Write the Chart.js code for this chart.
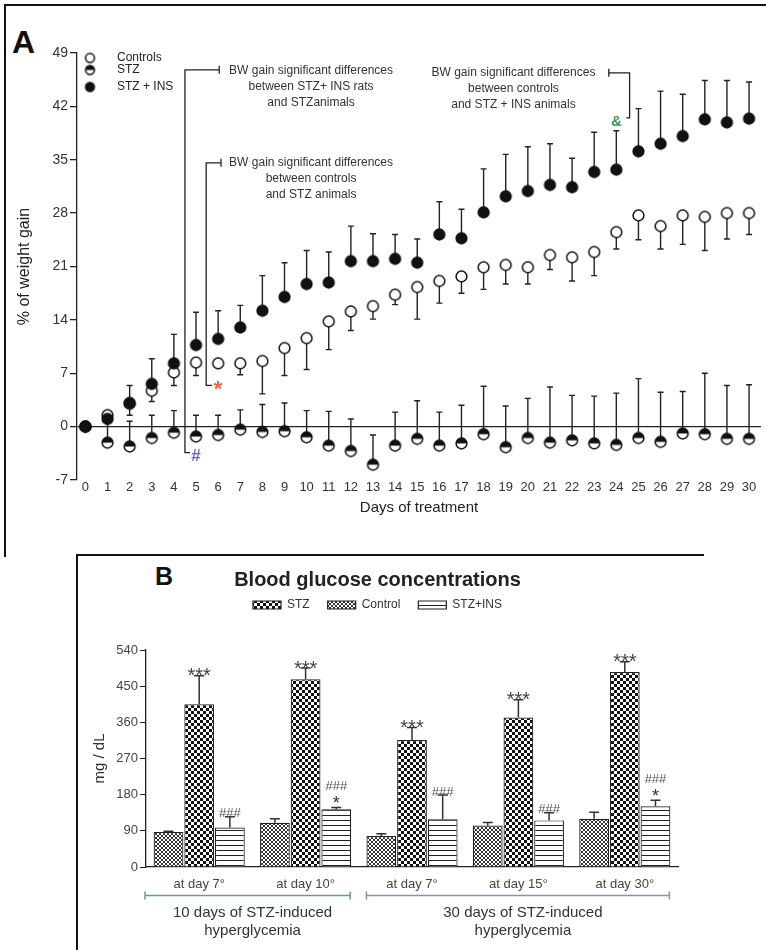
<!DOCTYPE html>
<html>
<head>
<meta charset="utf-8">
<script src="https://cdn.jsdelivr.net/npm/chart.js@4.4.0/dist/chart.umd.min.js"></script>
<style>
  body { margin: 0; background: #fff; width: 766px; height: 950px; position: relative; overflow: hidden;
         font-family: "Liberation Sans", Arial, sans-serif; }
  #chartA { position: absolute; left: 0; top: 0; }
  #chartB { position: absolute; left: 77px; top: 555px; }
  .frame { position: absolute; border-left: 2px solid #111; border-top: 2px solid #111; }
  .letter { position: absolute; font-weight: bold; color: #111; line-height: 1; }
</style>
</head>
<body>
<div class="frame" style="left:4px; top:4px; width:761px; height:551px;"></div>
<div class="frame" style="left:76px; top:554px; width:626px; height:396px;"></div>
<div class="letter" style="left:12px; top:26px; font-size:32px;">A</div>
<div class="letter" style="left:155px; top:564px; font-size:25px;">B</div>
<canvas id="chartA" width="766" height="555"></canvas>
<canvas id="chartB" width="666" height="395"></canvas>
<script>
// ---- panel A: % of weight gain per day
const days = [0,1,2,3,4,5,6,7,8,9,10,11,12,13,14,15,16,17,18,19,20,21,22,23,24,25,26,27,28,29,30];
const controlsMean = [0, 1.5, 3.0, 4.7, 7.1, 8.4, 8.3, 8.3, 8.6, 10.3, 11.6, 13.8, 15.1, 15.8, 17.3, 18.3, 19.1, 19.7, 20.9, 21.2, 20.9, 22.5, 22.2, 22.9, 25.5, 27.7, 26.3, 27.7, 27.5, 28.0, 28.0];
const controlsLow  = [null, 0.9, 1.5, 3.3, 5.4, 6.7, 7.7, 6.8, 4.3, 6.7, 7.5, 10.1, 12.6, 14.1, 16.0, 14.1, 16.2, 17.5, 18.0, 18.7, 18.7, 20.6, 19.1, 19.8, 23.3, 24.5, 23.3, 23.9, 23.1, 24.6, 25.2];
const stzMean = [0, -2.1, -2.6, -1.5, -0.8, -1.3, -1.1, -0.4, -0.7, -0.6, -1.4, -2.5, -3.2, -5.0, -2.5, -1.6, -2.5, -2.2, -1.0, -2.7, -1.5, -2.1, -1.8, -2.2, -2.4, -1.5, -2.0, -0.9, -1.0, -1.6, -1.6];
const stzHigh = [null, 1.0, 0.7, 1.5, 2.1, 1.5, 1.5, 2.2, 2.9, 3.1, 2.1, 2.0, 1.0, -1.1, 1.9, 3.4, 1.9, 2.8, 5.3, 2.7, 3.7, 5.2, 4.1, 4.0, 4.4, 6.3, 4.5, 4.6, 7.0, 5.4, 5.5];
const insMean = [0, 1.0, 3.1, 5.6, 8.3, 10.7, 11.5, 13.0, 15.2, 17.0, 18.7, 18.9, 21.7, 21.7, 22.0, 21.5, 25.2, 24.7, 28.1, 30.2, 30.9, 31.7, 31.4, 33.4, 33.7, 36.1, 37.1, 38.1, 40.3, 39.9, 40.4];
const insHigh = [null, null, 5.4, 8.9, 12.1, 15.0, 15.2, 15.9, 19.8, 21.5, 23.1, 22.9, 26.3, 25.3, 25.2, 24.6, 29.5, 28.5, 33.8, 35.7, 36.7, 37.1, 35.2, 38.6, 38.8, 41.7, 44.0, 43.6, 45.4, 45.4, 45.2];
const weightTicks = [-7, 0, 7, 14, 21, 28, 35, 42, 49];

// ---- panel B: blood glucose (mg/dL)
const glucoseLabels = ['at day 7°', 'at day 10°', 'at day 7°', 'at day 15°', 'at day 30°'];
const controlGlucose = [87, 110, 77, 103, 120];
const controlGlucoseErr = [89, 120, 83, 111, 136];
const stzGlucose = [405, 467, 316, 372, 485];
const stzGlucoseErr = [476, 495, 347, 416, 511];
const insGlucose = [98, 144, 119, 116, 151];
const insGlucoseErr = [125, 148, 179, 135, 166];
const stzMarks = [['***'], ['***'], ['***'], ['***'], ['***']];
const insMarks = [['###'], ['###', '*'], ['###'], ['###'], ['###', '*']];
const phaseRanges = [[0, 1], [2, 4]];
const phaseLabels = [['10 days of STZ-induced', 'hyperglycemia'], ['30 days of STZ-induced', 'hyperglycemia']];
const legendRank = [1, 0, 2]; // legend shows STZ, Control, STZ+INS

Chart.defaults.font.family = '"Liberation Sans", Arial, sans-serif';

function marker(kind, r) {
  const c = document.createElement('canvas');
  c.width = 15; c.height = 15;
  const g = c.getContext('2d');
  g.lineWidth = 1.5;
  g.strokeStyle = '#111';
  g.beginPath(); g.arc(7.5, 7.5, r, 0, Math.PI * 2);
  g.fillStyle = kind === 'filled' ? '#111' : '#fff';
  g.fill();
  if (kind === 'half') {
    g.beginPath(); g.arc(7.5, 7.5, r, Math.PI, Math.PI * 2); g.closePath();
    g.fillStyle = '#111'; g.fill();
  }
  g.beginPath(); g.arc(7.5, 7.5, r, 0, Math.PI * 2); g.stroke();
  return c;
}
const imgOpen = marker('open', 5.4), imgHalf = marker('half', 5.4), imgFilled = marker('filled', 5.4);

const pts = arr => days.map((d, i) => ({ x: d, y: arr[i] }));

const errorBarsA = {
  id: 'errorBarsA',
  beforeDatasetsDraw(chart) {
    const { ctx, scales: { x, y } } = chart;
    ctx.save();
    ctx.strokeStyle = '#222';
    ctx.lineWidth = 1.4;
    chart.data.datasets.forEach(ds => {
      ds.err.forEach((tip, i) => {
        if (tip === null) return;
        const px = x.getPixelForValue(days[i]);
        const y0 = y.getPixelForValue(ds.data[i].y), y1 = y.getPixelForValue(tip);
        ctx.beginPath();
        ctx.moveTo(px, y0); ctx.lineTo(px, y1);
        ctx.moveTo(px - 3, y1); ctx.lineTo(px + 3, y1);
        ctx.stroke();
      });
    });
    ctx.restore();
  }
};

// brackets and notes of panel A, in data units
const bracketPaths = [
  [[6.05, 46.8], [4.5, 46.8], [4.5, -3.4], [4.73, -3.4]],
  [[6.13, 34.6], [5.46, 34.6], [5.46, 5.4], [5.73, 5.4]],
  [[23.66, 46.4], [24.6, 46.4], [24.6, 40.5], [24.45, 40.5]]
];
const noteTexts = [
  { at: [10.2, 46.7], lines: ['BW gain significant differences', 'between STZ+ INS rats', 'and STZanimals'] },
  { at: [10.2, 34.6], lines: ['BW gain significant differences', 'between controls', 'and STZ animals'] },
  { at: [19.35, 46.4], lines: ['BW gain significant differences', 'between controls', 'and STZ + INS animals'] }
];
const signsA = [
  { text: '#', at: [5.0, -3.9], color: '#7b5cc0', size: 17 },
  { text: '*', at: [6.0, 4.85], color: '#f0643c', size: 22 },
  { text: '&', at: [24.0, 40.0], color: '#3a9a55', size: 15 }
];

const notesA = {
  id: 'notesA',
  afterDatasetsDraw(chart) {
    const { ctx, chartArea: a, scales: { x, y } } = chart;
    ctx.save();
    // legend
    const items = [[marker('open', 4.4), 'Controls'], [marker('half', 4.4), 'STZ'], [marker('filled', 4.4), 'STZ + INS']];
    const rows = [5, 17, 34];
    ctx.font = '12px "Liberation Sans", Arial, sans-serif';
    ctx.fillStyle = '#222';
    ctx.textBaseline = 'middle';
    items.forEach(([img, txt], i) => {
      ctx.drawImage(img, a.left + 13 - 7.5, a.top + rows[i] - 7.5);
      ctx.fillText(txt, a.left + 40, a.top + rows[i]);
    });
    // brackets
    ctx.strokeStyle = '#222';
    ctx.lineWidth = 1.3;
    bracketPaths.forEach(path => {
      ctx.beginPath();
      path.forEach(([dx, dy], i) => {
        const px = x.getPixelForValue(dx), py = y.getPixelForValue(dy);
        i ? ctx.lineTo(px, py) : ctx.moveTo(px, py);
      });
      const ex = x.getPixelForValue(path[0][0]), ey = y.getPixelForValue(path[0][1]);
      ctx.moveTo(ex, ey - 4); ctx.lineTo(ex, ey + 4);
      ctx.stroke();
    });
    // texts
    ctx.textAlign = 'center';
    ctx.fillStyle = '#333';
    noteTexts.forEach(n => {
      const px = x.getPixelForValue(n.at[0]), py = y.getPixelForValue(n.at[1]);
      n.lines.forEach((l, i) => ctx.fillText(l, px, py + i * 16));
    });
    signsA.forEach(s => {
      ctx.font = 'bold ' + s.size + 'px "Liberation Sans", Arial, sans-serif';
      ctx.fillStyle = s.color;
      ctx.fillText(s.text, x.getPixelForValue(s.at[0]), y.getPixelForValue(s.at[1]));
    });
    ctx.restore();
  }
};

new Chart(document.getElementById('chartA'), {
  type: 'scatter',
  data: {
    datasets: [
      { label: 'STZ + INS', data: pts(insMean), err: insHigh, pointStyle: imgFilled, order: 0 },
      { label: 'Controls', data: pts(controlsMean), err: controlsLow, pointStyle: imgOpen, order: 1 },
      { label: 'STZ', data: pts(stzMean), err: stzHigh, pointStyle: imgHalf, order: 2 }
    ]
  },
  options: {
    responsive: false,
    animation: false,
    layout: { padding: { top: 53, right: 1, left: 0, bottom: 0 } },
    plugins: { legend: { display: false }, tooltip: { enabled: false } },
    scales: {
      x: {
        type: 'linear', min: -0.38, max: 30.54,
        afterFit: s => { s.height = 75; },
        ticks: { stepSize: 1, includeBounds: false, padding: -8, autoSkip: false, maxRotation: 0,
                 font: { size: 13 }, color: '#333' },
        grid: { display: false },
        border: { display: false },
        title: { display: true, text: 'Days of treatment', font: { size: 15 }, color: '#222', padding: { bottom: 38 } }
      },
      y: {
        min: -7, max: 49,
        afterFit: s => { s.width = 77; },
        afterBuildTicks: s => { s.ticks = weightTicks.map(v => ({ value: v })); },
        ticks: { padding: 2, font: { size: 14 }, color: '#333' },
        grid: { color: c => (c.tick && c.tick.value === 0 ? '#222' : 'transparent'), tickColor: '#222', tickLength: 7, lineWidth: 1.3 },
        border: { display: true, color: '#222', width: 1.3 },
        title: { display: true, text: '% of weight gain', font: { size: 16 }, color: '#222', padding: { top: 15 } }
      }
    }
  },
  plugins: [errorBarsA, notesA]
});

// ---- panel B
function pattern(w, h, draw) {
  const c = document.createElement('canvas');
  c.width = w; c.height = h;
  const g = c.getContext('2d');
  g.fillStyle = '#fff'; g.fillRect(0, 0, w, h);
  draw(g);
  return g.createPattern(c, 'repeat');
}
const patStz = pattern(6, 6, g => { g.fillStyle = '#111'; g.fillRect(0, 0, 3, 3); g.fillRect(3, 3, 3, 3); });
const patControl = pattern(4, 4, g => { g.fillStyle = '#333'; g.fillRect(0, 0, 2, 2); g.fillRect(2, 2, 2, 2); });
const patIns = pattern(5, 5, g => { g.fillStyle = '#222'; g.fillRect(0, 0, 5, 1); });

const errorBarsB = {
  id: 'errorBarsB',
  afterDatasetsDraw(chart) {
    const { ctx, scales: { y } } = chart;
    ctx.save();
    ctx.strokeStyle = '#333';
    ctx.lineWidth = 1.5;
    ctx.textAlign = 'center';
    chart.data.datasets.forEach((ds, di) => {
      chart.getDatasetMeta(di).data.forEach((el, i) => {
        const y1 = y.getPixelForValue(ds.err[i]);
        ctx.beginPath();
        ctx.moveTo(el.x, el.y); ctx.lineTo(el.x, y1);
        ctx.moveTo(el.x - 5, y1); ctx.lineTo(el.x + 5, y1);
        ctx.stroke();
        if (!ds.marks) return;
        let base = y1 - 3;
        ds.marks[i].slice().reverse().forEach(m => {
          if (m === '***') {
            ctx.font = '20px "Liberation Sans", Arial, sans-serif';
            ctx.fillStyle = '#444';
            ctx.fillText(m, el.x, y1 + 1);
          } else {
            ctx.font = (m === '*' ? '18px' : '13px') + ' "Liberation Sans", Arial, sans-serif';
            ctx.fillStyle = m === '*' ? '#333' : '#555';
            ctx.fillText(m, el.x, base);
            base -= 18;
          }
        });
      });
    });
    ctx.restore();
  }
};

const phasesB = {
  id: 'phasesB',
  afterDraw(chart) {
    const { ctx, chartArea: a } = chart;
    const ctrl = chart.getDatasetMeta(0).data, ins = chart.getDatasetMeta(2).data;
    const colors = ['#5aa58a', '#8e88c8'];
    ctx.save();
    phaseRanges.forEach((r, k) => {
      const left = k === 0 ? a.left - 1 : ctrl[r[0]].x - ctrl[r[0]].width / 2;
      const right = ins[r[1]].x + ins[r[1]].width / 2 - 1;
      const y = a.bottom + 28.5;
      ctx.strokeStyle = colors[k];
      ctx.lineWidth = 1.5;
      ctx.beginPath();
      ctx.moveTo(left, y); ctx.lineTo(right, y);
      ctx.moveTo(left, y - 4); ctx.lineTo(left, y + 4);
      ctx.moveTo(right, y - 4); ctx.lineTo(right, y + 4);
      ctx.stroke();
      ctx.font = '15px "Liberation Sans", Arial, sans-serif';
      ctx.fillStyle = '#333';
      ctx.textAlign = 'center';
      ctx.textBaseline = 'middle';
      phaseLabels[k].forEach((l, i) => ctx.fillText(l, (left + right) / 2 + 5, a.bottom + 46 + i * 18));
    });
    ctx.restore();
  }
};

const legendMargin = {
  id: 'legendMargin',
  beforeInit: chart => {
    const fitValue = chart.legend.fit;
    chart.legend.fit = function fit() {
      fitValue.bind(chart.legend)();
      return this.height += 29;
    };
  }
};

new Chart(document.getElementById('chartB'), {
  type: 'bar',
  data: {
    labels: glucoseLabels,
    datasets: [
      { label: 'Control', data: controlGlucose, err: controlGlucoseErr, backgroundColor: patControl },
      { label: 'STZ', data: stzGlucose, err: stzGlucoseErr, marks: stzMarks, backgroundColor: patStz },
      { label: 'STZ+INS', data: insGlucose, err: insGlucoseErr, marks: insMarks, backgroundColor: patIns }
    ]
  },
  options: {
    responsive: false,
    animation: false,
    layout: { padding: { left: 0, right: 65, top: 0, bottom: 0 } },
    datasets: { bar: { categoryPercentage: 0.865, barPercentage: 0.97, borderColor: '#222', borderWidth: 1.2 } },
    plugins: {
      title: { display: true, text: 'Blood glucose concentrations', font: { size: 20, weight: 'bold' }, color: '#222',
               padding: { top: 13, bottom: -11 } },
      legend: {
        labels: { boxWidth: 28, boxHeight: 8, padding: 18, font: { size: 12 }, color: '#333',
                  sort: (p, q) => legendRank[p.datasetIndex] - legendRank[q.datasetIndex] }
      },
      tooltip: { enabled: false }
    },
    scales: {
      x: {
        afterFit: s => { s.height = 83; },
        grid: { display: false },
        border: { display: true, color: '#222', width: 1.3 },
        ticks: { padding: 2, font: { size: 13 }, color: '#444' }
      },
      y: {
        min: 0, max: 540,
        afterFit: s => { s.width = 69; },
        ticks: { stepSize: 90, padding: 2, font: { size: 13 }, color: '#444' },
        grid: { drawOnChartArea: false, tickLength: 6, tickColor: '#222' },
        border: { display: true, color: '#222', width: 1.3 },
        title: { display: true, text: 'mg / dL', font: { size: 15 }, color: '#333', padding: { top: 14 } }
      }
    }
  },
  plugins: [legendMargin, errorBarsB, phasesB]
});
</script>
</body>
</html>
